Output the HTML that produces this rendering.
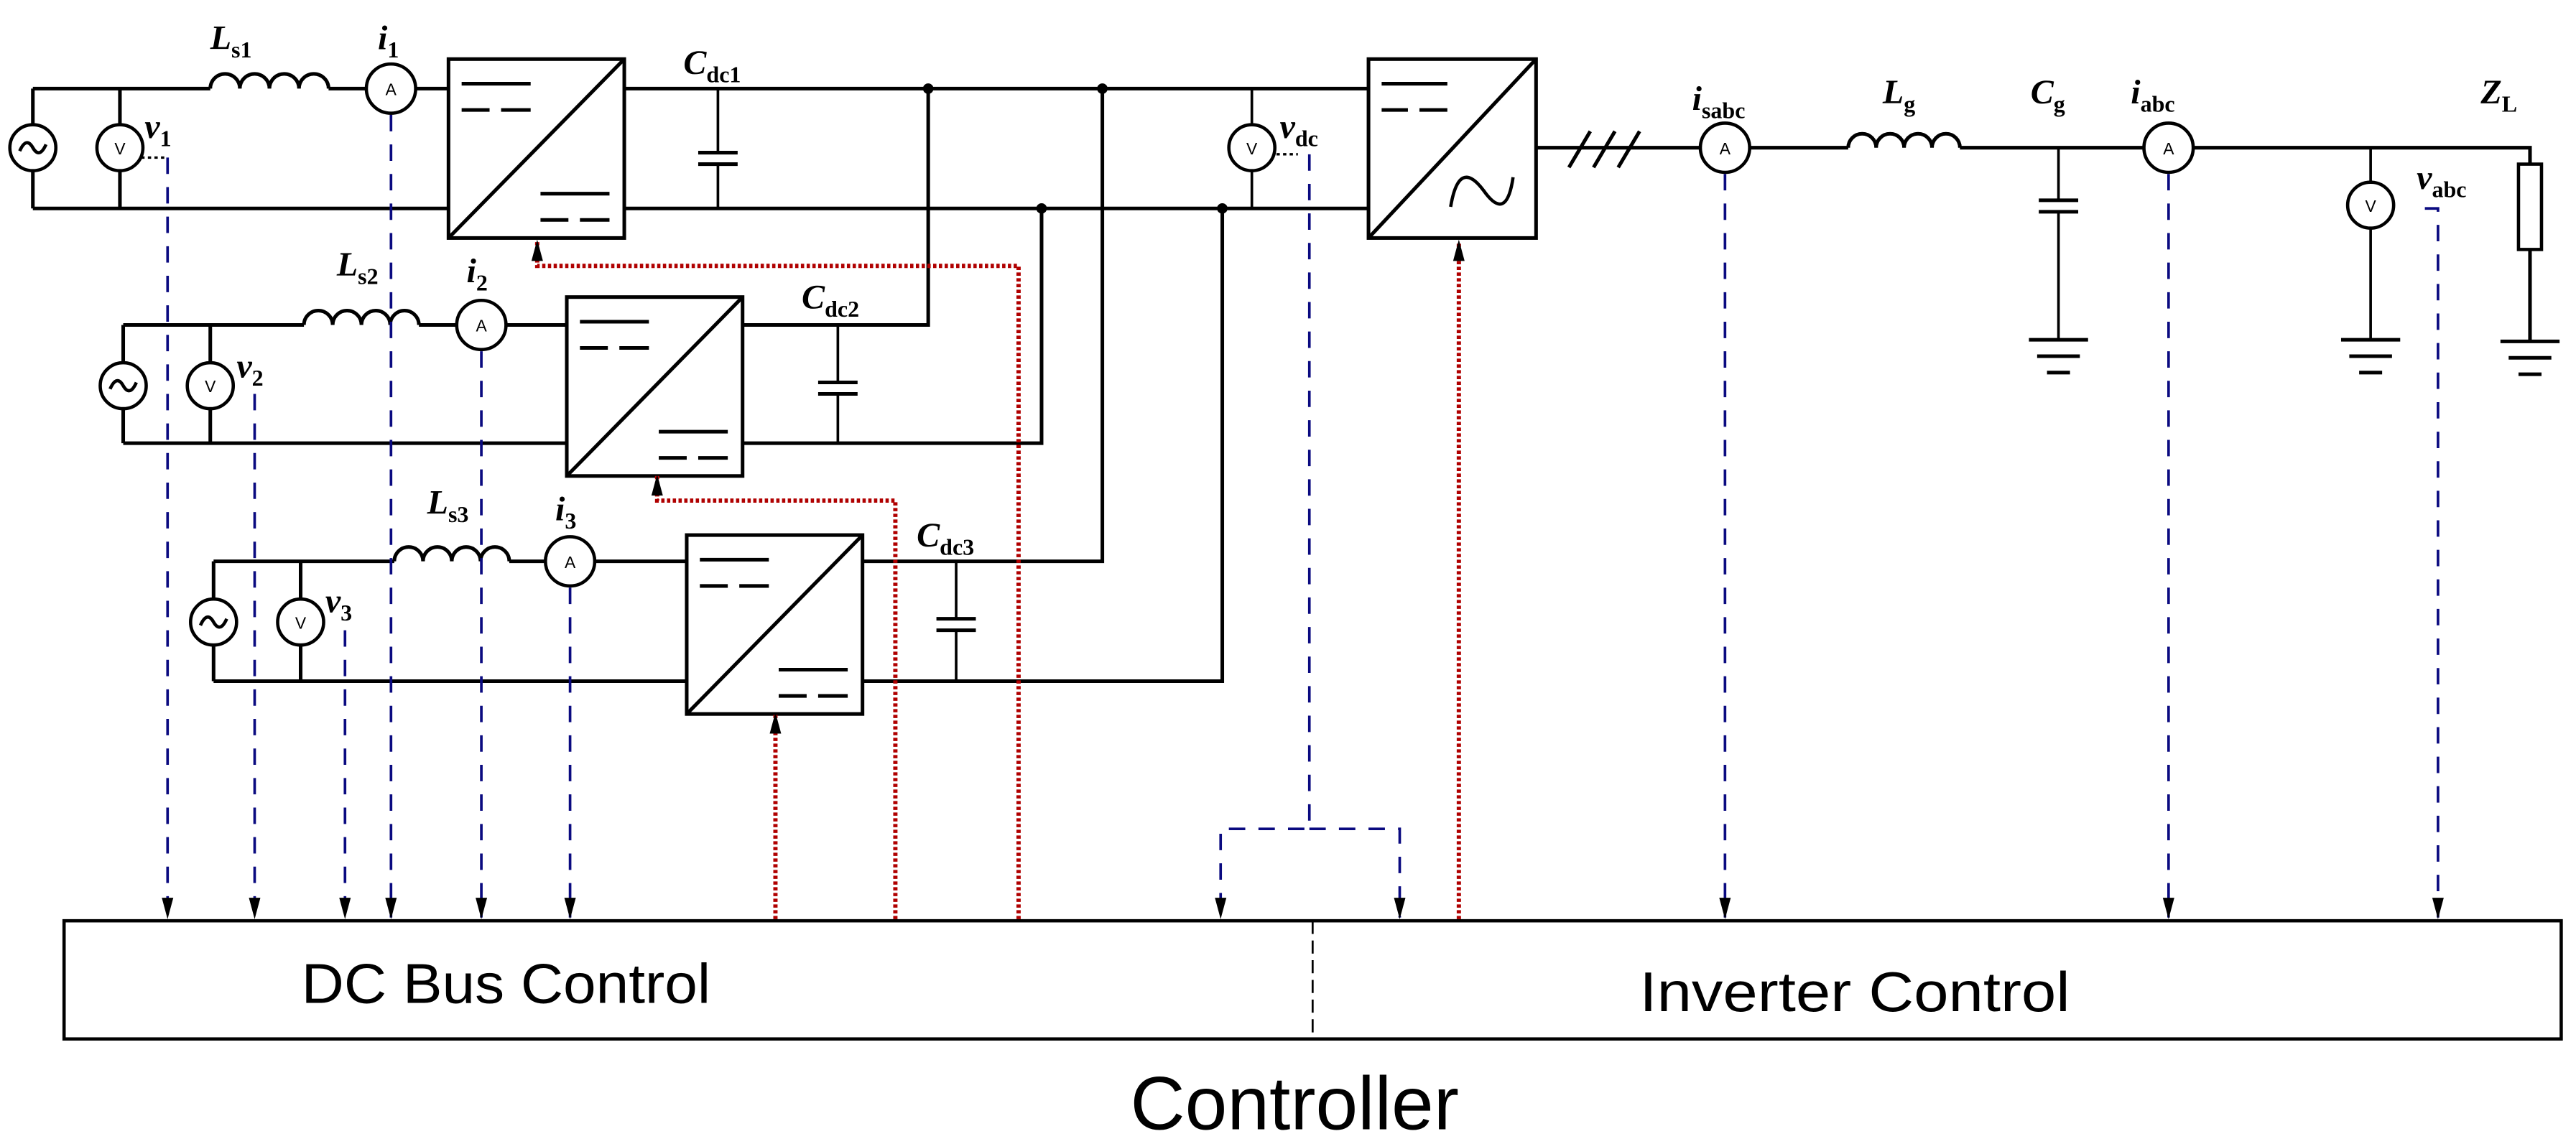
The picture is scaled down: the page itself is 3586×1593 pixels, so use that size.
<!DOCTYPE html>
<html><head><meta charset="utf-8"><style>
html,body{margin:0;padding:0;background:#fff}
svg{display:block}
.w{stroke:#000;stroke-width:2.2;fill:none}
.t{stroke:#000;stroke-width:1.6;fill:none}
.b{stroke:#0a0a80;stroke-width:1.6;stroke-dasharray:10 8;fill:none}
.r{stroke:#b00000;stroke-width:2.6;stroke-dasharray:2 1.5;fill:none}
.lab{font-family:"Liberation Serif",serif;font-style:italic;font-weight:bold;font-size:21px}
.sub{font-style:normal;font-size:14px}
.sym{font-family:"Liberation Sans",sans-serif;font-size:10px}
.big{font-family:"Liberation Sans",sans-serif;font-size:34px}
</style></head><body>
<svg width="3586" height="1593" viewBox="0 0 1568 697" preserveAspectRatio="none" xmlns="http://www.w3.org/2000/svg">
<defs>
<marker id="ab" markerWidth="14" markerHeight="10" refX="12" refY="4" orient="auto" markerUnits="userSpaceOnUse"><path d="M0 0.5 L13 4 L0 7.5 Z" fill="#000"/></marker>
<g id="src"><line class="w" x1="0" y1="-14" x2="0" y2="14"/><circle cx="0" cy="0" r="14" fill="#fff" stroke="#000" stroke-width="2"/><path d="M-8 2 q4 -9 8 -2 q4 7 8 -2" stroke="#000" stroke-width="2" fill="none"/></g>
<g id="vm"><circle cx="0" cy="0" r="14" fill="#fff" stroke="#000" stroke-width="2"/><text class="sym" x="0" y="4" text-anchor="middle">V</text></g>
<g id="am"><circle cx="0" cy="0" r="15" fill="#fff" stroke="#000" stroke-width="2"/><text class="sym" x="0" y="4" text-anchor="middle">A</text></g>
<g id="conv"><rect x="0" y="0" width="107" height="109" fill="#fff" stroke="#000" stroke-width="2.2"/><line class="w" x1="0" y1="109" x2="107" y2="0"/><line class="w" x1="8" y1="15" x2="50" y2="15"/><line class="w" x1="8" y1="31" x2="25" y2="31" /><line class="w" x1="32" y1="31" x2="50" y2="31"/><line class="w" x1="56" y1="82" x2="98" y2="82"/><line class="w" x1="56" y1="98" x2="73" y2="98"/><line class="w" x1="80" y1="98" x2="98" y2="98"/></g>
<g id="gnd"><line class="w" x1="-18" y1="0" x2="18" y2="0"/><line class="w" x1="-13" y1="10" x2="13" y2="10"/><line class="w" x1="-7" y1="20" x2="7" y2="20"/></g>
</defs>

<!-- Row 1 -->
<path class="w" d="M20 54 H128 M200 54 H273 M20 127 H273 M20 54 V127 M73 54 V127"/>
<path class="w" d="M128 54 a9 9 0 0 1 18 0 a9 9 0 0 1 18 0 a9 9 0 0 1 18 0 a9 9 0 0 1 18 0"/>
<use href="#src" x="20" y="90"/><use href="#vm" x="73" y="90"/><use href="#am" x="238" y="54"/>
<use href="#conv" x="273" y="36"/>
<path class="w" d="M380 54 H833 M380 127 H833"/>
<path class="t" d="M437 54 V93 M437 100 V127"/><path class="w" d="M425 93 H449 M425 100 H449"/>
<circle cx="565" cy="54" r="3.2"/><circle cx="671" cy="54" r="3.2"/><circle cx="634" cy="127" r="3.2"/><circle cx="744" cy="127" r="3.2"/>
<path class="t" d="M762 54 V127"/><use href="#vm" x="762" y="90"/>
<g transform="translate(833,36)"><rect x="0" y="0" width="102" height="109" fill="#fff" stroke="#000" stroke-width="2.2"/><line class="w" x1="0" y1="109" x2="102" y2="0"/><line class="w" x1="8" y1="15" x2="48" y2="15"/><line class="w" x1="8" y1="31" x2="24" y2="31"/><line class="w" x1="31" y1="31" x2="48" y2="31"/><path d="M50 90 q5 -30 20 -10 q14 20 18 -8" stroke="#000" stroke-width="2" fill="none"/></g>
<path class="w" d="M935 90 H1125 M1193 90 H1540 V100 M1540 152 V207"/>
<path class="w" d="M955 102 L968 80 M970 102 L983 80 M985 102 L998 80"/>
<path class="w" d="M1125 90 a8.5 8.5 0 0 1 17 0 a8.5 8.5 0 0 1 17 0 a8.5 8.5 0 0 1 17 0 a8.5 8.5 0 0 1 17 0"/>
<use href="#am" x="1050" y="90"/><use href="#am" x="1320" y="90"/>
<path class="t" d="M1253 90 V122 M1253 129 V207"/><path class="w" d="M1241 122 H1265 M1241 129 H1265"/><use href="#gnd" x="1253" y="207"/>
<path class="t" d="M1443 90 V207"/><use href="#vm" x="1443" y="125"/><use href="#gnd" x="1443" y="207"/>
<rect x="1533" y="100" width="14" height="52" fill="#fff" stroke="#000" stroke-width="2"/><use href="#gnd" x="1540" y="208"/>

<!-- Row 2 -->
<path class="w" d="M75 198 H185 M255 198 H345 M75 270 H345 M75 198 V270 M128 198 V270"/>
<path class="w" d="M185 198 a8.75 8.75 0 0 1 17.5 0 a8.75 8.75 0 0 1 17.5 0 a8.75 8.75 0 0 1 17.5 0 a8.75 8.75 0 0 1 17.5 0"/>
<use href="#src" x="75" y="235"/><use href="#vm" x="128" y="235"/><use href="#am" x="293" y="198"/>
<use href="#conv" x="345" y="181"/>
<path class="w" d="M452 198 H565 V54 M452 270 H634 V127"/>
<path class="t" d="M510 198 V233 M510 240 V270"/><path class="w" d="M498 233 H522 M498 240 H522"/>

<!-- Row 3 -->
<path class="w" d="M130 342 H240 M310 342 H418 M130 415 H418 M130 342 V415 M183 342 V415"/>
<path class="w" d="M240 342 a8.75 8.75 0 0 1 17.5 0 a8.75 8.75 0 0 1 17.5 0 a8.75 8.75 0 0 1 17.5 0 a8.75 8.75 0 0 1 17.5 0"/>
<use href="#src" x="130" y="379"/><use href="#vm" x="183" y="379"/><use href="#am" x="347" y="342"/>
<use href="#conv" x="418" y="326"/>
<path class="w" d="M525 342 H671 V54 M525 415 H744 V127"/>
<path class="t" d="M582 342 V377 M582 384 V415"/><path class="w" d="M570 377 H594 M570 384 H594"/>

<!-- Red PWM -->
<path class="r" d="M620 560 V162 H327 V147" marker-end="url(#ab)"/>
<path class="r" d="M545 560 V305 H400 V290" marker-end="url(#ab)"/>
<path class="r" d="M472 560 V435" marker-end="url(#ab)"/>
<path class="r" d="M888 560 V147" marker-end="url(#ab)"/>

<!-- Blue measurement -->
<g marker-end="url(#ab)">
<path class="b" d="M102 96 V559"/>
<path class="b" d="M238 70 V559"/>
<path class="b" d="M155 240 V559"/>
<path class="b" d="M293 214 V559"/>
<path class="b" d="M210 384 V559"/>
<path class="b" d="M347 358 V559"/>
<path class="b" d="M797 94 V505 H743 V559"/>
<path class="b" d="M797 505 H852 V559"/>
<path class="b" d="M1050 106 V559"/>
<path class="b" d="M1320 106 V559"/>
<path class="b" d="M1476 127 H1484 V559"/>
</g>
<path d="M86 96 H100 M777 94 H790" stroke="#000" stroke-width="1.5" stroke-dasharray="2 2"/>

<!-- Labels -->
<text class="lab" x="128" y="30">L<tspan class="sub" dy="5">s1</tspan></text>
<text class="lab" x="230" y="30">i<tspan class="sub" dy="5">1</tspan></text>
<text class="lab" x="416" y="45">C<tspan class="sub" dy="5">dc1</tspan></text>
<text class="lab" x="88" y="84">v<tspan class="sub" dy="5">1</tspan></text>
<text class="lab" x="205" y="168">L<tspan class="sub" dy="5">s2</tspan></text>
<text class="lab" x="284" y="172">i<tspan class="sub" dy="5">2</tspan></text>
<text class="lab" x="488" y="188">C<tspan class="sub" dy="5">dc2</tspan></text>
<text class="lab" x="144" y="230">v<tspan class="sub" dy="5">2</tspan></text>
<text class="lab" x="260" y="313">L<tspan class="sub" dy="5">s3</tspan></text>
<text class="lab" x="338" y="317">i<tspan class="sub" dy="5">3</tspan></text>
<text class="lab" x="558" y="333">C<tspan class="sub" dy="5">dc3</tspan></text>
<text class="lab" x="198" y="373">v<tspan class="sub" dy="5">3</tspan></text>
<text class="lab" x="779" y="84">v<tspan class="sub" dy="5">dc</tspan></text>
<text class="lab" x="1030" y="67">i<tspan class="sub" dy="5">sabc</tspan></text>
<text class="lab" x="1146" y="63">L<tspan class="sub" dy="5">g</tspan></text>
<text class="lab" x="1236" y="63">C<tspan class="sub" dy="5">g</tspan></text>
<text class="lab" x="1297" y="63">i<tspan class="sub" dy="5">abc</tspan></text>
<text class="lab" x="1471" y="115">v<tspan class="sub" dy="5">abc</tspan></text>
<text class="lab" x="1510" y="63">Z<tspan class="sub" dy="5">L</tspan></text>

<!-- Controller -->
<rect x="39" y="561" width="1520" height="72" fill="none" stroke="#000" stroke-width="2"/>
<line x1="799" y1="561" x2="799" y2="633" stroke="#000" stroke-width="1.2" stroke-dasharray="8 4"/>
<text class="big" x="308" y="611" text-anchor="middle" textLength="249" lengthAdjust="spacingAndGlyphs">DC Bus Control</text>
<text class="big" x="1129" y="616" text-anchor="middle" textLength="262" lengthAdjust="spacingAndGlyphs">Inverter Control</text>
<text class="big" x="788" y="688" text-anchor="middle" style="font-size:46px" textLength="200" lengthAdjust="spacingAndGlyphs">Controller</text>
</svg>
</body></html>
